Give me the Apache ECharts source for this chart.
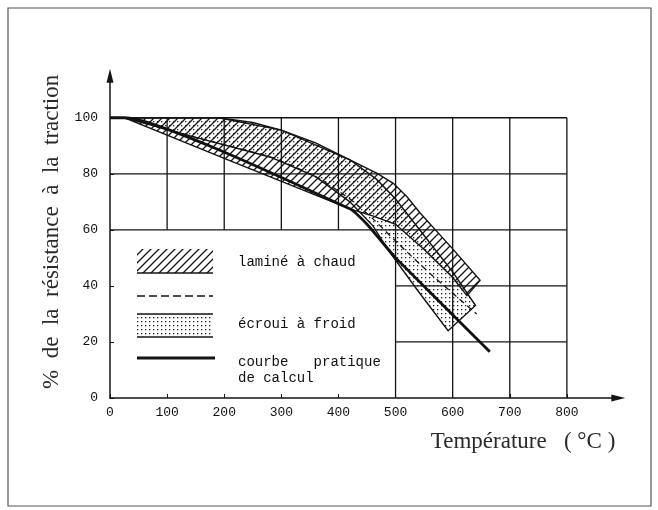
<!DOCTYPE html>
<html><head><meta charset="utf-8">
<script src="https://cdn.jsdelivr.net/npm/echarts@6/dist/echarts.min.js"></script>
<style>html,body{margin:0;padding:0;background:#fff}#c{width:658px;height:510px}</style>
</head><body><div id="c"></div>
<script>
// ---- data ----
const xTicks = [0, 100, 200, 300, 400, 500, 600, 700, 800];
const yTicks = [0, 20, 40, 60, 80, 100];
const xName = 'Température   ( °C )';
const yName = '%  de  la  résistance  à  la  traction';
const legendLabels = ['laminé à chaud', '', 'écroui à froid', 'courbe   pratique', 'de calcul'];

// laminé à chaud band (hatched)
const lamineUpper = [[25,100],[190,100],[250,98.3],[300,95.6],[360,91],[420,85],[467,80.2],[496,76.6],[520,71.8],[543,66],[600,53.2],[648,42]];
const lamineLower = [[25,100],[200,85.5],[420,67.5],[460,65],[500,62],[550,53],[600,43],[625,36.5]];
// écroui à froid band (dotted)
const ecrouiUpper = [[25,100],[190,100],[300,95.6],[420,85],[467,78],[500,71],[550,58],[600,45],[640,33]];
const ecrouiLower = [[25,100],[150,93],[280,86],[360,79],[420,70],[460,61.5],[490,52],[540,38],[592,24]];
// dashed line
const dashedLine = [[25,100],[150,93],[280,86],[360,79],[420,71],[460,64],[500,56],[560,44.5],[642,30]];
// courbe pratique de calcul
const courbe = [[0,100],[25,100],[420,67.5],[450,62],[475,56],[500,50],[665,16.5]];

// ---- styles ----
const INK = '#141414';
function hatchCanvas(gap) {
  const c = document.createElement('canvas'); c.width = gap; c.height = gap;
  const g = c.getContext('2d'); g.strokeStyle = INK; g.lineWidth = 1.3;
  g.beginPath();
  g.moveTo(0, gap); g.lineTo(gap, 0);
  g.moveTo(-2, 2); g.lineTo(2, -2);
  g.moveTo(gap - 2, gap + 2); g.lineTo(gap + 2, gap - 2);
  g.stroke(); return c;
}
function dotCanvas() {
  const c = document.createElement('canvas'); c.width = 4; c.height = 4;
  const g = c.getContext('2d'); g.fillStyle = '#222';
  g.fillRect(1, 1, 1.3, 1.3); return c;
}
const hatchFill = { image: hatchCanvas(8), repeat: 'repeat' };
const dotFill = { image: dotCanvas(), repeat: 'repeat' };

// legend box (data-space bounds of the white area in the lower left)
const BOX = { x: 500, y: 60 };

// gridline segments built from ticks
const gridSegs = [];
yTicks.forEach(v => { if (v === 0) return; const x0 = v < BOX.y ? BOX.x : 0; gridSegs.push([x0, v, 800, v]); });
xTicks.forEach(v => { if (v === 0) return; const y0 = v < BOX.x ? BOX.y : 0; gridSegs.push([v, y0, v, 100]); });

function band(name, upper, lower, fill, z) {
  return {
    type: 'custom', name, z, silent: true, clip: false, data: [0],
    renderItem: (p, api) => {
      const pts = upper.map(q => api.coord(q)).concat(lower.slice().reverse().map(q => api.coord(q)));
      return { type: 'polygon', shape: { points: pts }, style: { fill: fill, stroke: INK, lineWidth: 1.4 } };
    }
  };
}

const chart = echarts.init(document.getElementById('c'), null, { renderer: 'canvas' });
const monoFont = 'Liberation Mono';
const serifFont = 'Liberation Serif';
const legendFont = '14px "Liberation Mono"';

const legendX = 137;
chart.setOption({
  backgroundColor: '#fff',
  animation: false,
  grid: { left: 110, right: 39.7, top: 75.7, bottom: 112 },
  xAxis: {
    type: 'value', min: 0, max: 890, interval: 100, z: 10,
    axisLine: { symbol: ['none', 'triangle'], symbolSize: [7, 14], lineStyle: { color: INK, width: 1.5 } },
    axisTick: { inside: true, length: 4, customValues: xTicks, lineStyle: { color: INK } },
    axisLabel: { customValues: xTicks, fontFamily: monoFont, fontSize: 13, color: '#111', margin: 8 },
    splitLine: { show: false },
    name: xName, nameLocation: 'end', nameGap: -3,
    nameTextStyle: { fontFamily: serifFont, fontSize: 23, color: '#2a2a2a', align: 'right', verticalAlign: 'top', padding: [32, 0, 0, 0] }
  },
  yAxis: {
    type: 'value', min: 0, max: 115, interval: 20, z: 10,
    axisLine: { symbol: ['none', 'triangle'], symbolSize: [7, 14], lineStyle: { color: INK, width: 1.5 } },
    axisTick: { inside: true, length: 4, customValues: yTicks, lineStyle: { color: INK } },
    axisLabel: { customValues: yTicks, fontFamily: monoFont, fontSize: 13, color: '#111', margin: 12 },
    splitLine: { show: false },
    name: yName, nameLocation: 'middle', nameGap: 47,
    nameTextStyle: { fontFamily: serifFont, fontSize: 23, color: '#2a2a2a', padding: [0, 0, 0, 10] }
  },
  graphic: [
    { type: 'rect', z: 0, silent: true, shape: { x: 8, y: 8, width: 643, height: 498 }, style: { fill: 'none', stroke: '#555', lineWidth: 1.2 } },
    // legend swatches
    { type: 'rect', z: 20, shape: { x: legendX, y: 249, width: 76, height: 24 }, style: { fill: hatchFill, stroke: null } },
    { type: 'line', z: 20, shape: { x1: legendX, y1: 273, x2: legendX + 76, y2: 273 }, style: { stroke: INK, lineWidth: 1.6 } },
    { type: 'line', z: 20, shape: { x1: legendX, y1: 296, x2: legendX + 76, y2: 296 }, style: { stroke: INK, lineWidth: 1.5, lineDash: [8, 4] } },
    { type: 'rect', z: 20, shape: { x: legendX, y: 314, width: 76, height: 23 }, style: { fill: dotFill, stroke: null } },
    { type: 'line', z: 20, shape: { x1: legendX, y1: 314, x2: legendX + 76, y2: 314 }, style: { stroke: INK, lineWidth: 1.6 } },
    { type: 'line', z: 20, shape: { x1: legendX, y1: 337, x2: legendX + 76, y2: 337 }, style: { stroke: INK, lineWidth: 1.6 } },
    { type: 'line', z: 20, shape: { x1: legendX, y1: 358, x2: legendX + 78, y2: 358 }, style: { stroke: INK, lineWidth: 3 } },
    { type: 'text', z: 20, style: { x: 238, y: 262, text: legendLabels[0], font: legendFont, fill: '#111', verticalAlign: 'middle' } },
    { type: 'text', z: 20, style: { x: 238, y: 324, text: legendLabels[2], font: legendFont, fill: '#111', verticalAlign: 'middle' } },
    { type: 'text', z: 20, style: { x: 238, y: 362, text: legendLabels[3], font: legendFont, fill: '#111', verticalAlign: 'middle' } },
    { type: 'text', z: 20, style: { x: 238, y: 378, text: legendLabels[4], font: legendFont, fill: '#111', verticalAlign: 'middle' } }
  ],
  series: [
    {
      type: 'custom', name: 'grid', z: 1, silent: true, clip: false, data: gridSegs,
      renderItem: (p, api) => {
        const a = api.coord([api.value(0), api.value(1)]);
        const b = api.coord([api.value(2), api.value(3)]);
        return { type: 'line', shape: { x1: a[0], y1: a[1], x2: b[0], y2: b[1] }, style: { stroke: INK, lineWidth: 1.3 } };
      },
      encode: { x: [0, 2], y: [1, 3] }
    },
    band('laminé à chaud', lamineUpper, lamineLower, hatchFill, 3),
    band('écroui à froid', ecrouiUpper, ecrouiLower, dotFill, 4),
    { type: 'line', name: 'dashed', z: 5, data: dashedLine, symbol: 'none', smooth: 0.2, lineStyle: { color: INK, width: 1.3, type: [6, 4] } },
    { type: 'line', name: 'courbe pratique de calcul', z: 6, data: courbe, symbol: 'none', smooth: 0.15, lineStyle: { color: '#111', width: 2.8 } }
  ]
});
</script></body></html>
